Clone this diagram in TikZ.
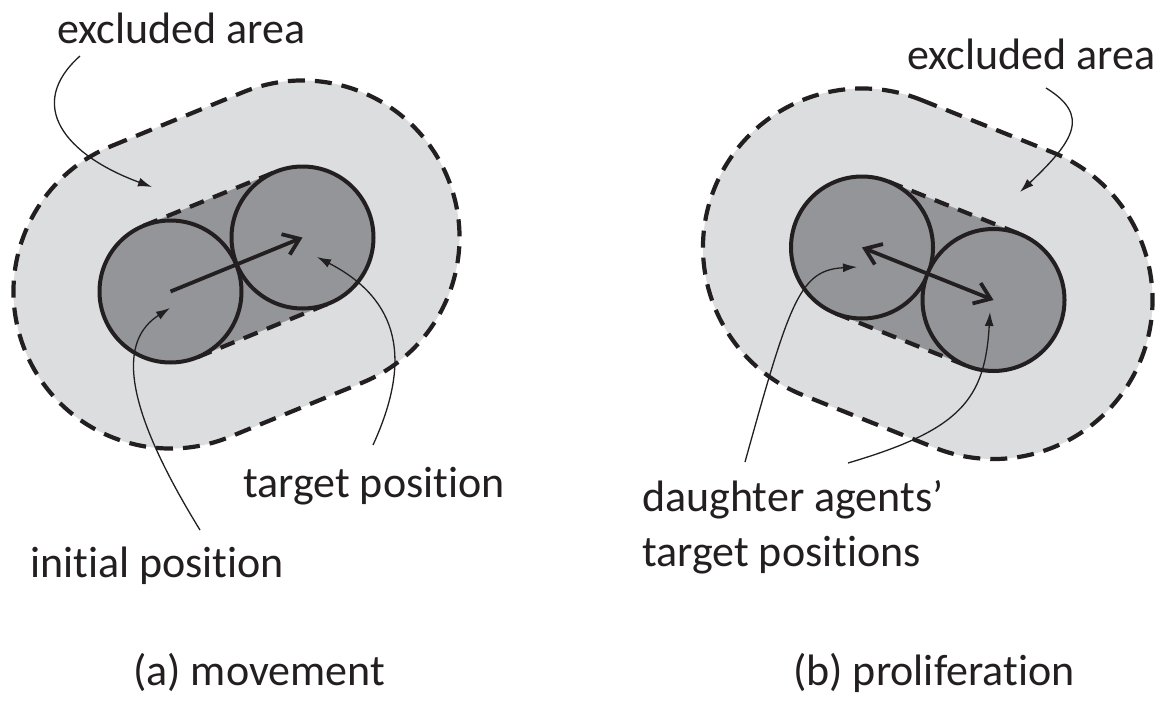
\documentclass[tikz,border=0pt]{standalone}
\usepackage{fontspec}
\setmainfont{Carlito}[Ligatures={TeX,NoCommon}]
\usetikzlibrary{arrows.meta,calc}
\definecolor{lightfill}{HTML}{DCDDDF}
\definecolor{darkfill}{HTML}{939598}
\definecolor{ink}{HTML}{231F20}
\begin{document}
\begin{tikzpicture}[x=1pt,y=1pt,
  lbl/.style={font=\fontsize{44}{53}\selectfont, text=ink, inner sep=0pt, anchor=base west},
  agent/.style={circle, draw=ink, line width=4pt, fill=darkfill, minimum size=142pt, inner sep=0pt},
  outerzone/.style={fill=lightfill, draw=ink, line width=4.2pt, dash pattern=on 17pt off 10pt},
  hullline/.style={draw=ink, line width=4.2pt, dash pattern=on 15pt off 10pt},
  mainarrow/.style={draw=ink, line width=3.8pt, -{Straight Barb[length=15pt,width=22pt]}},
  mainarrows/.style={draw=ink, line width=3.8pt, {Straight Barb[length=15pt,width=22pt]}-{Straight Barb[length=15pt,width=22pt]}},
  pointer/.style={draw=ink, line width=1.3pt, -{Latex[length=14pt,width=9pt]}}
]
\fill[white] (0,0) rectangle (1167,-704);
\useasboundingbox (0,0) rectangle (1167,-704);

% ---------- left panel: movement ----------
\coordinate (A) at (170.5,-291.5);
\coordinate (B) at (302.5,-237.5);
\path[outerzone] ($(A)+(112.25:157)$) -- ($(B)+(112.25:157)$)
  arc[start angle=112.25,end angle=-67.75,radius=157]
  -- ($(A)+(-67.75:157)$)
  arc[start angle=-67.75,end angle=-247.75,radius=157] -- cycle;
\fill[darkfill] ($(A)+(112.25:71)$) -- ($(B)+(112.25:71)$)
  arc[start angle=112.25,end angle=-67.75,radius=71]
  -- ($(A)+(-67.75:71)$)
  arc[start angle=-67.75,end angle=-247.75,radius=71] -- cycle;
\draw[hullline] ($(A)+(112.25:71)$) -- ($(B)+(112.25:71)$);
\draw[hullline] ($(A)+(-67.75:71)$) -- ($(B)+(-67.75:71)$);
\node[agent] (a1) at (A) {};
\node[agent] (a2) at (B) {};
\draw[mainarrow] (a1.center) -- (a2.center);

\node[lbl] (exA) at (57,-43) {excluded area};
\node[lbl] (tgA) at (243,-497) {target position};
\node[lbl] (inA) at (30,-577) {initial position};
\node[lbl] (capA) at (133,-685) {(a) movement};

\coordinate (s1) at (80,-56);   \coordinate (e1) at (152,-187);
\coordinate (s2) at (200,-530); \coordinate (e2) at (170,-308);
\coordinate (s3) at (373,-445); \coordinate (e3) at (317,-257);
\draw[pointer] (s1) .. controls (25,-105) and (65,-155) .. (e1);
\draw[pointer] (s2) .. controls (120,-400) and (120,-340) .. (e2);
\draw[pointer] (s3) .. controls (412,-360) and (400,-300) .. (e3);

% ---------- right panel: proliferation ----------
\coordinate (C) at (862,-247.5);
\coordinate (D) at (993.5,-300);
\path[outerzone] ($(C)+(68.24:159)$) -- ($(D)+(68.24:159)$)
  arc[start angle=68.24,end angle=-111.76,radius=159]
  -- ($(C)+(-111.76:159)$)
  arc[start angle=-111.76,end angle=-291.76,radius=159] -- cycle;
\fill[darkfill] ($(C)+(68.24:71)$) -- ($(D)+(68.24:71)$)
  arc[start angle=68.24,end angle=-111.76,radius=71]
  -- ($(C)+(-111.76:71)$)
  arc[start angle=-111.76,end angle=-291.76,radius=71] -- cycle;
\draw[hullline] ($(C)+(68.24:71)$) -- ($(D)+(68.24:71)$);
\draw[hullline] ($(C)+(-111.76:71)$) -- ($(D)+(-111.76:71)$);
\node[agent] (b1) at (C) {};
\node[agent] (b2) at (D) {};
\draw[mainarrows] (b1.center) -- (b2.center);

\node[lbl] (exB) at (907,-69) {excluded area};
\node[lbl] (dB1) at (642,-511) {daughter agents'};
\node[lbl] (dB2) at (642,-566) {target positions};
\node[lbl] (capB) at (793,-685) {(b) proliferation};

\coordinate (s4) at (1046,-88);  \coordinate (e4) at (1020,-192);
\coordinate (s5) at (745,-462);  \coordinate (e5) at (857,-267);
\coordinate (s6) at (848,-463);  \coordinate (e6) at (990,-312);
\draw[pointer] (s4) .. controls (1090,-115) and (1075,-140) .. (e4);
\draw[pointer] (s5) .. controls (790,-300) and (800,-270) .. (e5);
\draw[pointer] (s6) .. controls (960,-430) and (985,-400) .. (e6);
\end{tikzpicture}
\end{document}
